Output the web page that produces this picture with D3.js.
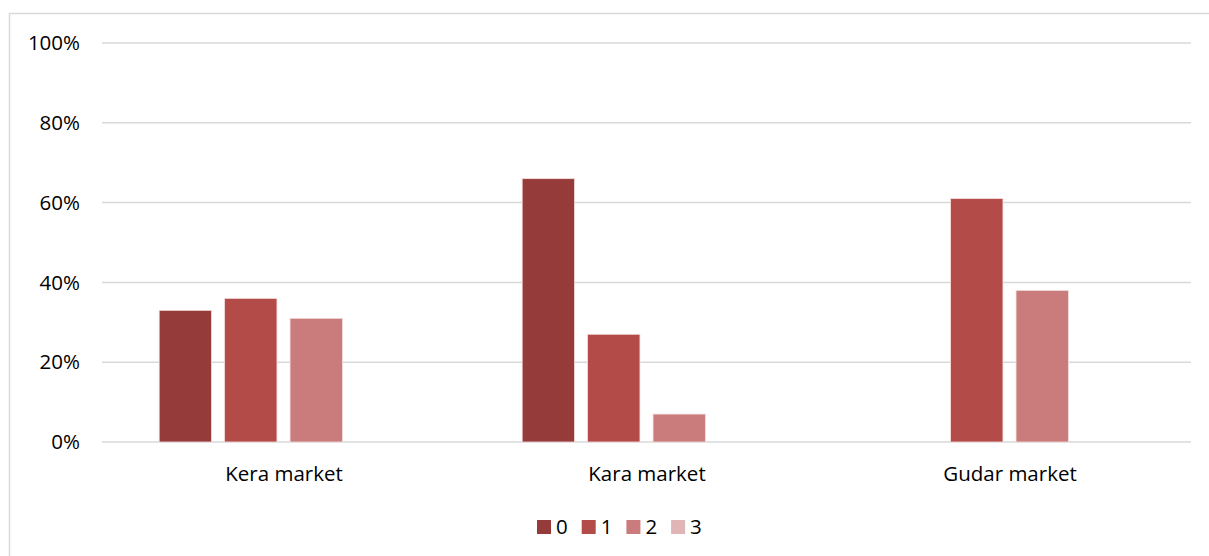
<!DOCTYPE html>
<html>
<head>
<meta charset="utf-8">
<script src="https://cdn.jsdelivr.net/npm/d3@7"></script>
<style>
  body { margin: 0; background: #fff; }
  text { font-family: "Open Sans", Lato, sans-serif; fill: #000; }
</style>
</head>
<body>
<div id="chart"></div>
<script>
// data
const categories = ['Kera market', 'Kara market', 'Gudar market'];
const seriesNames = ['0', '1', '2', '3'];
const series0 = [0.33, 0.66, 0];
const series1 = [0.36, 0.27, 0.61];
const series2 = [0.31, 0.07, 0.38];
const series3 = [0, 0, 0];
const yTicks = [0, 0.2, 0.4, 0.6, 0.8, 1];
const colors = ['#953b3a', '#b34b49', '#c97c7b', '#dfb5b5'];

const allSeries = [series0, series1, series2, series3];

const width = 1209, height = 556;
const margin = {top: 43, right: 18, bottom: 114, left: 102};

const svg = d3.select('#chart').append('svg')
    .attr('width', width)
    .attr('height', height);

// chart frame (only top and left show in the crop)
svg.append('rect')
    .attr('x', 9.5).attr('y', 13.5)
    .attr('width', 1240).attr('height', 600)
    .attr('fill', 'none')
    .attr('stroke', '#d9d9d9')
    .attr('stroke-width', 1.5);

const x0 = d3.scaleBand()
    .domain(categories)
    .range([margin.left, width - margin.right])
    .paddingInner(0.315)
    .paddingOuter(0.1575);

const x1 = d3.scaleBand()
    .domain(seriesNames)
    .range([0, x0.bandwidth()])
    .paddingInner(0.2)
    .paddingOuter(0);

const y = d3.scaleLinear()
    .domain([0, 1])
    .range([height - margin.bottom, margin.top]);

// gridlines
svg.append('g')
    .selectAll('line')
    .data(yTicks)
    .enter().append('line')
    .attr('x1', margin.left)
    .attr('x2', width - margin.right)
    .attr('y1', d => y(d))
    .attr('y2', d => y(d))
    .attr('stroke', '#d9d9d9')
    .attr('stroke-width', 1.5);

// y labels
svg.append('g')
    .selectAll('text')
    .data(yTicks)
    .enter().append('text')
    .attr('x', 80)
    .attr('y', d => y(d))
    .attr('dy', '0.35em')
    .attr('text-anchor', 'end')
    .style('font-size', '20.5px')
    .text(d => d3.format('.0%')(d));

// bars
const groups = svg.append('g')
    .selectAll('g')
    .data(categories)
    .enter().append('g')
    .attr('transform', d => 'translate(' + x0(d) + ',0)');

groups.selectAll('rect')
    .data((d, i) => seriesNames.map((s, j) => ({s: s, j: j, v: allSeries[j][i]})))
    .enter().append('rect')
    .filter(d => d.v > 0)
    .attr('x', d => x1(d.s))
    .attr('width', x1.bandwidth())
    .attr('y', d => y(d.v))
    .attr('height', d => y(0) - y(d.v))
    .attr('fill', d => colors[d.j])
    .attr('stroke', '#f3dede')
    .attr('stroke-width', 0.8);

// category labels
svg.append('g')
    .selectAll('text')
    .data(categories)
    .enter().append('text')
    .attr('x', d => x0(d) + x0.bandwidth() / 2 + 0.5)
    .attr('y', 474)
    .attr('dy', '0.35em')
    .attr('text-anchor', 'middle')
    .style('font-size', '20.5px')
    .text(d => d);

// legend
const legend = svg.append('g')
    .selectAll('g')
    .data(seriesNames)
    .enter().append('g')
    .attr('transform', (d, i) => 'translate(' + (537 + i * 44.7) + ',520)');

legend.append('rect')
    .attr('width', 14)
    .attr('height', 14)
    .attr('fill', (d, i) => colors[i]);

legend.append('text')
    .attr('x', 19)
    .attr('y', 7)
    .attr('dy', '0.36em')
    .style('font-size', '20.5px')
    .text(d => d);
</script>
</body>
</html>
